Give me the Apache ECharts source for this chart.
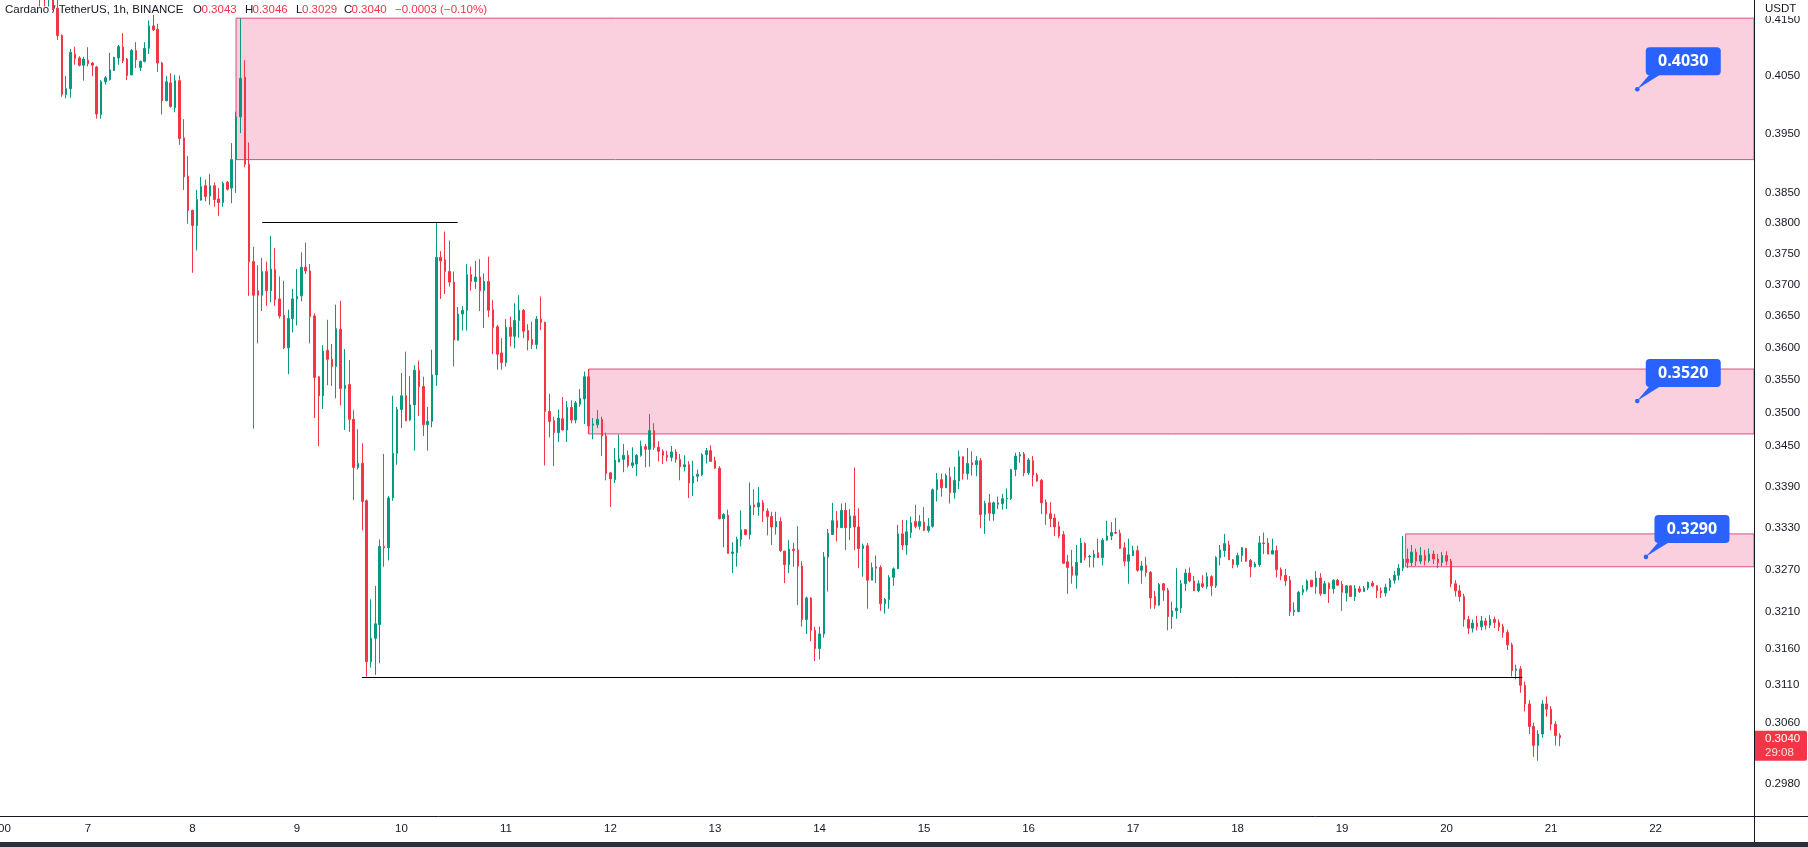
<!DOCTYPE html>
<html>
<head>
<meta charset="utf-8">
<script src="https://cdn.jsdelivr.net/npm/echarts@6/dist/echarts.min.js"></script>
<style>
  html, body { margin: 0; padding: 0; background: #fff; }
  #chart { width: 1808px; height: 847px; }
</style>
</head>
<body>
<div id="chart"></div>
<script>
// ADA/USDT 1h candles, one array per day, each bar = [open, close, low, high]
const day06 = [ // from 13:00
  [.4230,.4215,.4174,.4240],[.4215,.4200,.4174,.4228],[.4200,.4212,.4174,.4222],[.4212,.4171,.4168,.4220],
  [.4171,.4122,.4114,.4190],[.4122,.4018,.4014,.4124],[.4018,.4028,.4011,.4050],[.4028,.4092,.4012,.4098],
  [.4089,.4081,.4070,.4102],[.4082,.4069,.4067,.4085],[.4069,.4080,.4042,.4084]
];
const day07 = [
  [.4078,.4072,.4067,.4101],[.4073,.4069,.4050,.4075],[.4066,.3984,.3976,.4068],[.3983,.4040,.3976,.4043],
  [.4040,.4047,.4035,.4050],[.4044,.4061,.4042,.4091],[.4060,.4083,.4059,.4084],[.4082,.4102,.4070,.4105],
  [.4101,.4077,.4073,.4126],[.4080,.4051,.4043,.4082],[.4052,.4095,.4052,.4098],[.4095,.4079,.4064,.4110],
  [.4065,.4076,.4059,.4077],[.4076,.4099,.4074,.4110],[.4099,.4139,.4089,.4149],[.4139,.4132,.4130,.4159],
  [.4133,.4073,.4057,.4143],[.4073,.4007,.3983,.4075],[.4007,.4040,.4006,.4050],[.4038,.3997,.3995,.4055],
  [.3995,.4042,.3987,.4052],[.4042,.3942,.3931,.4051],[.3943,.3877,.3855,.3975],[.3878,.3821,.3799,.3912]
];
const day08 = [
  [.3821,.3796,.3719,.3822],[.3796,.3839,.3755,.3855],[.3838,.3861,.3837,.3877],[.3862,.3844,.3836,.3872],
  [.3845,.3862,.3830,.3882],[.3862,.3839,.3827,.3867],[.3840,.3834,.3812,.3858],[.3834,.3866,.3827,.3869],
  [.3868,.3856,.3854,.3870],[.3858,.3906,.3833,.3934],[.3906,.3979,.3850,.3988],[.3979,.4046,.3951,.4153],
  [.4048,.3898,.3893,.4078],[.3898,.3737,.3682,.3935],[.3737,.3683,.3476,.3761],[.3690,.3683,.3607,.3731],
  [.3683,.3721,.3658,.3743],[.3721,.3690,.3666,.3737],[.3690,.3725,.3672,.3779],[.3724,.3676,.3666,.3759],
  [.3677,.3650,.3646,.3713],[.3651,.3600,.3598,.3706],[.3600,.3646,.3559,.3660],[.3646,.3677,.3624,.3693]
];
const day09 = [
  [.3677,.3681,.3635,.3725],[.3682,.3728,.3673,.3752],[.3728,.3722,.3717,.3768],[.3722,.3649,.3607,.3733],
  [.3650,.3554,.3492,.3654],[.3555,.3526,.3450,.3556],[.3526,.3595,.3506,.3604],[.3596,.3582,.3542,.3644],
  [.3582,.3571,.3541,.3606],[.3571,.3630,.3522,.3668],[.3629,.3537,.3511,.3674],[.3537,.3542,.3474,.3598],
  [.3543,.3490,.3471,.3581],[.3490,.3418,.3370,.3504],[.3418,.3424,.3415,.3475],[.3424,.3368,.3326,.3454],
  [.3369,.3142,.3122,.3371],[.3142,.3174,.3134,.3228],[.3174,.3194,.3124,.3247],[.3193,.3303,.3140,.3313],
  [.3303,.3301,.3274,.3438],[.3301,.3373,.3283,.3376],[.3373,.3439,.3369,.3526],[.3439,.3505,.3422,.3509]
];
const day10 = [
  [.3505,.3526,.3477,.3561],[.3526,.3488,.3487,.3594],[.3489,.3512,.3488,.3556],[.3512,.3565,.3443,.3573],
  [.3565,.3540,.3495,.3580],[.3540,.3482,.3465,.3555],[.3482,.3487,.3443,.3509],[.3487,.3558,.3478,.3597],
  [.3558,.3744,.3541,.3800],[.3744,.3738,.3677,.3754],[.3740,.3721,.3685,.3786],[.3721,.3704,.3697,.3771],
  [.3704,.3612,.3571,.3721],[.3612,.3653,.3611,.3664],[.3653,.3659,.3627,.3666],[.3659,.3716,.3627,.3733],
  [.3716,.3705,.3690,.3729],[.3705,.3712,.3693,.3738],[.3712,.3690,.3658,.3741],[.3691,.3705,.3631,.3718],
  [.3705,.3659,.3648,.3745],[.3660,.3632,.3590,.3675],[.3633,.3590,.3566,.3636],[.3592,.3577,.3566,.3615]
];
const day11 = [
  [.3577,.3632,.3571,.3645],[.3632,.3618,.3602,.3649],[.3618,.3643,.3599,.3670],[.3643,.3659,.3616,.3683],
  [.3659,.3626,.3615,.3661],[.3627,.3612,.3596,.3637],[.3613,.3605,.3598,.3641],[.3605,.3645,.3598,.3650],
  [.3645,.3640,.3628,.3681],[.3640,.3502,.3421,.3641],[.3502,.3487,.3463,.3529],[.3488,.3470,.3420,.3494],
  [.3470,.3492,.3456,.3505],[.3491,.3474,.3473,.3524],[.3474,.3508,.3456,.3518],[.3508,.3489,.3484,.3519],
  [.3489,.3515,.3484,.3518],[.3513,.3522,.3509,.3536],[.3521,.3555,.3483,.3563],[.3555,.3480,.3468,.3567],
  [.3481,.3483,.3460,.3492],[.3482,.3490,.3477,.3504],[.3490,.3465,.3435,.3494],[.3465,.3409,.3399,.3470]
];
const day12 = [
  [.3410,.3401,.3360,.3411],[.3400,.3429,.3395,.3447],[.3426,.3431,.3426,.3467],[.3430,.3436,.3411,.3453],
  [.3436,.3421,.3418,.3443],[.3421,.3425,.3417,.3448],[.3423,.3436,.3405,.3438],[.3436,.3450,.3434,.3458],
  [.3449,.3445,.3418,.3453],[.3445,.3473,.3419,.3498],[.3473,.3448,.3444,.3484],[.3448,.3442,.3427,.3457],
  [.3442,.3436,.3423,.3445],[.3436,.3433,.3427,.3443],[.3433,.3441,.3427,.3450],[.3441,.3430,.3425,.3445],
  [.3430,.3419,.3399,.3438],[.3419,.3422,.3412,.3436],[.3422,.3395,.3373,.3427],[.3395,.3405,.3376,.3428],
  [.3405,.3408,.3397,.3415],[.3407,.3437,.3405,.3439],[.3437,.3443,.3424,.3447],[.3443,.3427,.3427,.3451]
];
const day13 = [
  [.3428,.3417,.3416,.3434],[.3417,.3343,.3342,.3420],[.3343,.3349,.3302,.3351],[.3348,.3293,.3293,.3356],
  [.3293,.3295,.3265,.3309],[.3294,.3313,.3274,.3317],[.3313,.3327,.3303,.3355],[.3327,.3320,.3319,.3328],
  [.3320,.3362,.3313,.3396],[.3363,.3360,.3348,.3386],[.3360,.3366,.3347,.3389],[.3366,.3354,.3338,.3370],
  [.3354,.3346,.3319,.3358],[.3346,.3331,.3305,.3353],[.3331,.3339,.3320,.3353],[.3339,.3297,.3295,.3345],
  [.3296,.3277,.3251,.3297],[.3277,.3299,.3265,.3312],[.3299,.3297,.3274,.3308],[.3298,.3275,.3220,.3332],
  [.3275,.3200,.3190,.3282],[.3200,.3230,.3180,.3232],[.3230,.3185,.3170,.3231],[.3185,.3160,.3143,.3190]
];
const day14 = [
  [.3160,.3180,.3145,.3190],[.3180,.3288,.3175,.3295],[.3288,.3322,.3239,.3328],[.3320,.3340,.3320,.3366],
  [.3340,.3330,.3310,.3354],[.3330,.3355,.3330,.3365],[.3355,.3330,.3298,.3366],[.3330,.3347,.3312,.3357],
  [.3347,.3331,.3298,.3418],[.3331,.3300,.3272,.3358],[.3300,.3304,.3260,.3307],[.3304,.3255,.3215,.3308],
  [.3255,.3273,.3255,.3280],[.3274,.3272,.3251,.3290],[.3273,.3222,.3212,.3276],[.3222,.3228,.3208,.3230],
  [.3228,.3259,.3215,.3262],[.3259,.3271,.3247,.3273],[.3271,.3321,.3271,.3334],[.3321,.3305,.3298,.3341],
  [.3305,.3324,.3291,.3341],[.3323,.3337,.3315,.3346],[.3339,.3332,.3329,.3363],[.3332,.3339,.3327,.3348]
];
const day15 = [
  [.3338,.3326,.3325,.3360],[.3326,.3332,.3323,.3344],[.3332,.3385,.3330,.3387],[.3385,.3400,.3368,.3410],
  [.3400,.3388,.3375,.3409],[.3388,.3406,.3388,.3409],[.3404,.3381,.3365,.3418],[.3381,.3399,.3372,.3419],
  [.3398,.3434,.3386,.3443],[.3434,.3409,.3400,.3434],[.3409,.3424,.3400,.3447],[.3425,.3422,.3406,.3442],
  [.3422,.3428,.3405,.3435],[.3428,.3349,.3329,.3432],[.3349,.3365,.3321,.3369],[.3366,.3351,.3340,.3379],
  [.3350,.3366,.3340,.3368],[.3364,.3366,.3357,.3375],[.3365,.3372,.3356,.3379],[.3372,.3373,.3357,.3387],
  [.3372,.3415,.3370,.3416],[.3415,.3435,.3405,.3440],[.3435,.3437,.3425,.3441],[.3438,.3410,.3405,.3441]
];
const day16 = [
  [.3410,.3429,.3407,.3432],[.3428,.3407,.3390,.3435],[.3407,.3398,.3397,.3410],[.3399,.3366,.3350,.3401],
  [.3367,.3350,.3334,.3371],[.3350,.3343,.3331,.3367],[.3344,.3331,.3318,.3350],[.3332,.3318,.3315,.3339],
  [.3320,.3279,.3278,.3325],[.3281,.3273,.3236,.3291],[.3274,.3262,.3250,.3298],[.3262,.3280,.3243,.3305],
  [.3280,.3308,.3280,.3315],[.3307,.3287,.3283,.3309],[.3288,.3289,.3273,.3291],[.3287,.3292,.3273,.3298],
  [.3294,.3287,.3287,.3314],[.3287,.3312,.3276,.3315],[.3312,.3318,.3311,.3340],[.3318,.3323,.3312,.3338],
  [.3323,.3322,.3321,.3344],[.3322,.3300,.3300,.3327],[.3301,.3282,.3275,.3309],[.3282,.3291,.3250,.3314]
];
const day17 = [
  [.3290,.3297,.3289,.3304],[.3297,.3269,.3267,.3304],[.3269,.3275,.3250,.3282],[.3276,.3266,.3260,.3288],
  [.3266,.3230,.3215,.3268],[.3232,.3220,.3215,.3240],[.3220,.3249,.3219,.3251],[.3250,.3241,.3226,.3251],
  [.3241,.3204,.3185,.3244],[.3204,.3212,.3187,.3225],[.3212,.3216,.3201,.3272],[.3216,.3250,.3209,.3255],
  [.3250,.3265,.3240,.3271],[.3265,.3254,.3252,.3273],[.3254,.3240,.3240,.3261],[.3240,.3250,.3238,.3255],
  [.3250,.3246,.3244,.3262],[.3246,.3260,.3243,.3266],[.3260,.3247,.3233,.3262],[.3247,.3287,.3244,.3289],
  [.3287,.3298,.3276,.3305],[.3297,.3307,.3288,.3321],[.3305,.3284,.3284,.3311],[.3284,.3277,.3272,.3285]
];
const day18 = [
  [.3277,.3290,.3273,.3294],[.3290,.3301,.3281,.3302],[.3300,.3282,.3281,.3301],[.3283,.3274,.3259,.3285],
  [.3274,.3278,.3273,.3281],[.3277,.3308,.3274,.3318],[.3308,.3307,.3292,.3323],[.3308,.3292,.3292,.3315],
  [.3292,.3297,.3292,.3314],[.3297,.3270,.3259,.3304],[.3270,.3261,.3255,.3273],[.3262,.3254,.3247,.3271],
  [.3255,.3211,.3205,.3261],[.3211,.3213,.3205,.3224],[.3211,.3238,.3210,.3240],[.3238,.3242,.3234,.3248],
  [.3242,.3254,.3239,.3256],[.3255,.3246,.3245,.3255],[.3246,.3258,.3236,.3268],[.3258,.3236,.3233,.3265],
  [.3236,.3250,.3236,.3254],[.3250,.3243,.3223,.3252],[.3243,.3255,.3236,.3256],[.3255,.3248,.3247,.3257]
];
const day19 = [
  [.3249,.3238,.3212,.3254],[.3237,.3247,.3225,.3248],[.3247,.3232,.3232,.3248],[.3232,.3243,.3226,.3248],
  [.3243,.3239,.3237,.3247],[.3239,.3244,.3239,.3247],[.3244,.3252,.3241,.3253],[.3251,.3247,.3245,.3254],
  [.3247,.3240,.3230,.3248],[.3240,.3237,.3230,.3245],[.3237,.3245,.3232,.3250],[.3245,.3255,.3240,.3258],
  [.3255,.3262,.3250,.3268],[.3262,.3272,.3255,.3278],[.3272,.3285,.3268,.3318],[.3285,.3280,.3272,.3300],
  [.3280,.3295,.3275,.3305],[.3295,.3282,.3275,.3300],[.3282,.3290,.3278,.3302],[.3290,.3283,.3276,.3298],
  [.3283,.3292,.3280,.3300],[.3292,.3285,.3278,.3297],[.3285,.3280,.3272,.3292],[.3280,.3290,.3275,.3295]
];
const day20 = [
  [.3290,.3282,.3276,.3296],[.3282,.3250,.3245,.3285],[.3250,.3240,.3232,.3255],[.3240,.3232,.3225,.3248],
  [.3232,.3200,.3190,.3236],[.3200,.3188,.3180,.3205],[.3188,.3195,.3182,.3200],[.3195,.3190,.3185,.3205],
  [.3190,.3198,.3185,.3205],[.3198,.3192,.3186,.3202],[.3192,.3200,.3188,.3206],[.3200,.3196,.3188,.3204],
  [.3196,.3190,.3184,.3200],[.3190,.3182,.3175,.3194],[.3182,.3165,.3158,.3186],[.3165,.3130,.3122,.3168],
  [.3130,.3132,.3118,.3138],[.3132,.3110,.3100,.3136],[.3110,.3085,.3075,.3115],[.3085,.3055,.3045,.3090],
  [.3055,.3030,.3015,.3060],[.3030,.3045,.3010,.3050],[.3045,.3085,.3040,.3090],[.3085,.3078,.3068,.3095]
];
const day21 = [
  [.3078,.3058,.3050,.3082],[.3058,.3043,.3030,.3062],[.3043,.3040,.3029,.3046]
];

const dayBlocks = [
  { day: 6, start: 13, bars: day06 }, { day: 7, start: 0, bars: day07 }, { day: 8, start: 0, bars: day08 },
  { day: 9, start: 0, bars: day09 }, { day: 10, start: 0, bars: day10 }, { day: 11, start: 0, bars: day11 },
  { day: 12, start: 0, bars: day12 }, { day: 13, start: 0, bars: day13 }, { day: 14, start: 0, bars: day14 },
  { day: 15, start: 0, bars: day15 }, { day: 16, start: 0, bars: day16 }, { day: 17, start: 0, bars: day17 },
  { day: 18, start: 0, bars: day18 }, { day: 19, start: 0, bars: day19 }, { day: 20, start: 0, bars: day20 },
  { day: 21, start: 0, bars: day21 }
];

// x axis labels (one per day, at midnight) and price scale labels
const dayLabels = ['7','8','9','10','11','12','13','14','15','16','17','18','19','20','21','22'];
const priceTicks = [0.4150,0.4050,0.3950,0.3850,0.3800,0.3750,0.3700,0.3650,0.3600,0.3550,0.3500,
  0.3450,0.3390,0.3330,0.3270,0.3210,0.3160,0.3110,0.3060,0.2980];

// drawings: supply/demand zones (hours from Nov 7 00:00), horizontal levels, price notes
const zones = [
  { from: 34, top: 0.4153, bottom: 0.3906 },
  { from: 115, top: 0.3567, bottom: 0.3468 },
  { from: 302.6, top: 0.3321, bottom: 0.3274 }
];
const levels = [
  { from: 40, to: 84.9, price: 0.3801 },
  { from: 62.9, to: 329.4, price: 0.3121 }
];
const notes = [
  { t: 355.8, price: 0.4027, text: '0.4030' },
  { t: 355.8, price: 0.3518, text: '0.3520' },
  { t: 357.8, price: 0.3288, text: '0.3290' }
];

const X_MIN = -20.21, X_MAX = 382.61;
const Y_MIN = 0.29387, Y_MAX = 0.41858;
const UP = '#089981', DOWN = '#F23645';
const FONT = '"Liberation Sans", Arial, sans-serif';

const candles = [];
dayBlocks.forEach(b => b.bars.forEach((v, i) => {
  candles.push([(b.day - 7) * 24 + b.start + i, v[0], v[1], v[2], v[3]]);
}));
const last = candles[candles.length - 1];

const chart = echarts.init(document.getElementById('chart'));

const option = {
  animation: false,
  backgroundColor: '#ffffff',
  grid: { left: 0, right: 54, top: 0, bottom: 31 },
  xAxis: {
    type: 'value', min: X_MIN, max: X_MAX,
    axisLine: { show: true, onZero: false, lineStyle: { color: '#131722', width: 1 } },
    axisTick: { show: false },
    splitLine: { show: false },
    axisLabel: {
      customValues: dayLabels.map((d, i) => i * 24),
      formatter: v => dayLabels[Math.round(v / 24)],
      color: '#131722', fontSize: 11.5, fontFamily: FONT, margin: 7
    }
  },
  yAxis: {
    type: 'log', logBase: 10, position: 'right', min: Y_MIN, max: Y_MAX,
    axisLine: { show: true, onZero: false, lineStyle: { color: '#131722', width: 1 } },
    axisTick: { show: false },
    splitLine: { show: false },
    axisLabel: {
      customValues: priceTicks,
      formatter: v => v.toFixed(4),
      color: '#131722', fontSize: 11.5, fontFamily: FONT, margin: 11
    }
  },
  series: [
    {
      type: 'candlestick',
      data: candles,
      encode: { x: 0, y: [1, 2, 3, 4] },
      barWidth: 2,
      clip: true,
      itemStyle: {
        color: UP, color0: DOWN, borderColor: UP, borderColor0: DOWN,
        borderColorDoji: UP, borderWidth: 1
      },
      markArea: {
        silent: true,
        itemStyle: { color: 'rgba(233,30,99,0.21)', borderColor: '#dd4f7f', borderWidth: 1 },
        data: zones.map(z => [{ xAxis: z.from, yAxis: z.top }, { xAxis: X_MAX, yAxis: z.bottom }])
      },
      markLine: {
        silent: true, symbol: 'none', label: { show: false },
        lineStyle: { color: '#000000', width: 1, type: 'solid' },
        data: levels.map(l => [{ coord: [l.from, l.price] }, { coord: [l.to, l.price] }])
      }
    },
    {
      type: 'custom',
      data: notes.map(n => [n.t, n.price]),
      encode: { x: 0, y: 1 },
      clip: false,
      z: 10,
      renderItem: (params, api) => {
        const p = api.coord([api.value(0), api.value(1)]);
        const bx = p[0] + 8.5, by = p[1] - 42, bw = 75, bh = 28;
        return {
          type: 'group',
          children: [
            { type: 'polygon', shape: { points: [[p[0] - 0.8, p[1] + 0.6], [p[0] + 0.8, p[1] - 0.8], [bx + 15, by + bh - 1], [bx + 4, by + bh - 1]] }, style: { fill: '#2962FF' } },
            { type: 'circle', shape: { cx: p[0], cy: p[1], r: 2.3 }, style: { fill: '#2962FF' } },
            { type: 'rect', shape: { x: bx, y: by, width: bw, height: bh, r: 4 }, style: { fill: '#2962FF' } },
            { type: 'text', x: bx + bw / 2, y: by + bh / 2 + 0.5,
              style: { text: notes[params.dataIndex].text, fill: '#ffffff', font: 'bold 16px "Open Sans", ' + FONT,
                align: 'center', verticalAlign: 'middle', textAlign: 'center', textVerticalAlign: 'middle' } }
          ]
        };
      }
    }
  ]
};
chart.setOption(option);

// overlays that sit outside the plot: legend line, price tag, axis extensions
const py = chart.convertToPixel({ yAxisIndex: 0 }, last[2]);
const axX = 1754, axY = 816;
const txt = (x, y, s, fill) => ({
  type: 'text', x: x, y: y, z: 100,
  style: { text: s, fill: fill, font: '11.5px ' + FONT, textAlign: 'left', textVerticalAlign: 'middle', align: 'left', verticalAlign: 'middle' }
});

chart.setOption({
  graphic: [
    txt(5, 9.5, 'Cardano / TetherUS, 1h, BINANCE', '#131722'),
    txt(193, 9.5, 'O', '#131722'), txt(201.5, 9.5, '0.3043', DOWN),
    txt(245, 9.5, 'H', '#131722'), txt(252.5, 9.5, '0.3046', DOWN),
    txt(296, 9.5, 'L', '#131722'), txt(302, 9.5, '0.3029', DOWN),
    txt(344, 9.5, 'C', '#131722'), txt(351.5, 9.5, '0.3040', DOWN),
    txt(395, 9.5, '\u22120.0003 (\u22120.10%)', DOWN),
    { type: 'rect', z: 95, shape: { x: axX + 1, y: 0, width: 1808 - axX - 1, height: 16 }, style: { fill: '#ffffff' } },
    txt(1765, 9, 'USDT', '#131722'),
    { type: 'line', z: 95, shape: { x1: axX + 0.5, y1: 0, x2: axX + 0.5, y2: 842 }, style: { stroke: '#131722', lineWidth: 1 } },
    { type: 'line', z: 95, shape: { x1: axX, y1: axY + 0.5, x2: 1808, y2: axY + 0.5 }, style: { stroke: '#131722', lineWidth: 1 } },
    { type: 'rect', z: 95, shape: { x: 0, y: 842, width: 1808, height: 5 }, style: { fill: '#2a2e39' } },
    txt(-2, 829, '00', '#131722'),
    { type: 'rect', z: 96, shape: { x: axX + 1, y: py - 7, width: 52, height: 30, r: [0, 2, 2, 0] }, style: { fill: DOWN } },
    txt(1765, py + 1.5, last[2].toFixed(4), '#ffffff'),
    txt(1765, py + 15.5, '29:08', 'rgba(255,255,255,0.85)')
  ]
});
</script>
</body>
</html>
